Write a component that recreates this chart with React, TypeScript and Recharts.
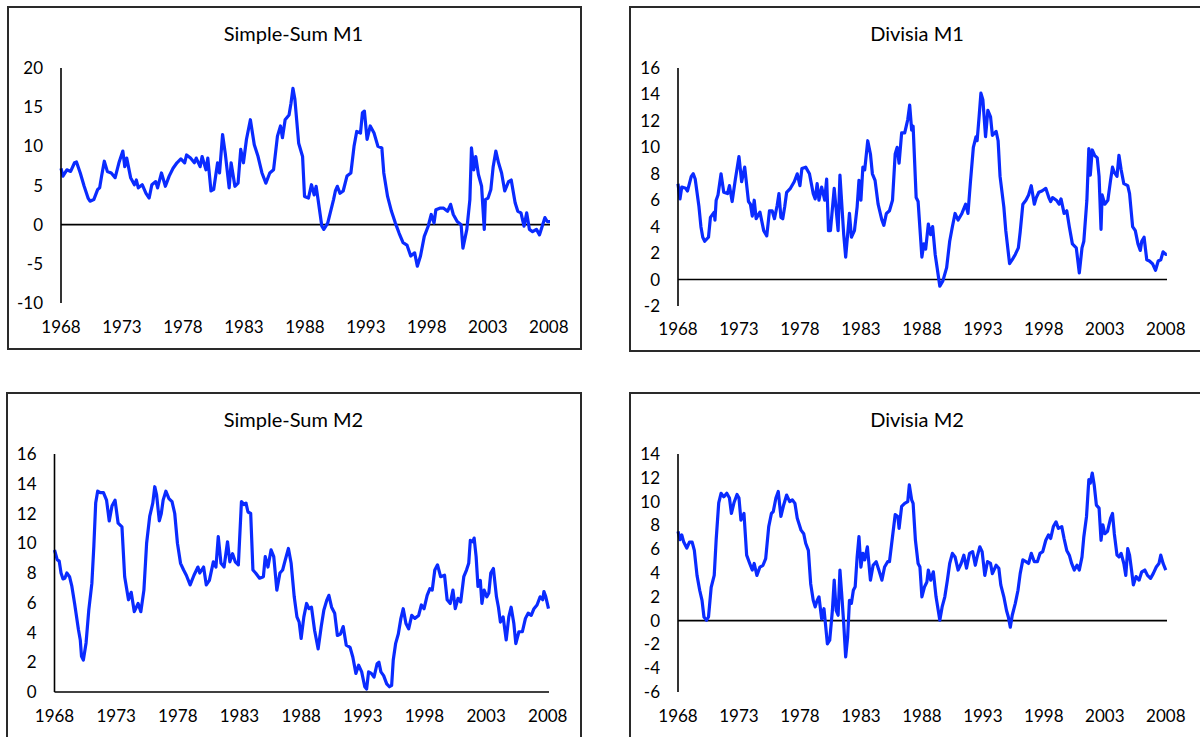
import React from 'react';
import { LineChart, Line, XAxis, YAxis, ReferenceLine } from 'recharts';

type Pt = [number, number];

const yearTicks = [1968, 1973, 1978, 1983, 1988, 1993, 1998, 2003, 2008];

const ticksSimpleSumM1 = [-10, -5, 0, 5, 10, 15, 20];
const ticksDivisiaM1 = [-2, 0, 2, 4, 6, 8, 10, 12, 14, 16];
const ticksSimpleSumM2 = [0, 2, 4, 6, 8, 10, 12, 14, 16];
const ticksDivisiaM2 = [-6, -4, -2, 0, 2, 4, 6, 8, 10, 12, 14];

const simpleSumM1: Pt[] = [
  [1968.0, 7.2], [1968.16, 6.2], [1968.48, 7.0], [1968.79, 6.8], [1969.11, 7.9], [1969.27, 8.0],
  [1969.58, 6.6], [1969.9, 4.9], [1970.22, 3.4], [1970.38, 3.0], [1970.69, 3.2], [1971.01, 4.5],
  [1971.17, 4.7], [1971.33, 6.2], [1971.55, 8.1], [1971.8, 6.8], [1972.12, 6.6], [1972.44, 6.0],
  [1972.75, 7.9], [1973.07, 9.4], [1973.23, 7.4], [1973.39, 8.5], [1973.71, 6.0], [1974.02, 5.1],
  [1974.18, 5.7], [1974.34, 4.7], [1974.66, 5.1], [1974.97, 4.0], [1975.23, 3.4], [1975.45, 5.1],
  [1975.77, 5.5], [1975.92, 4.7], [1976.24, 6.6], [1976.56, 4.9], [1976.87, 6.2], [1977.19, 7.2],
  [1977.51, 7.9], [1977.83, 8.4], [1978.14, 7.9], [1978.3, 8.9], [1978.62, 8.5], [1978.94, 7.9],
  [1979.09, 8.5], [1979.41, 7.4], [1979.57, 8.7], [1979.89, 7.0], [1980.04, 8.5], [1980.3, 4.3],
  [1980.52, 4.5], [1980.84, 7.9], [1981.0, 6.6], [1981.25, 11.5], [1981.47, 9.1], [1981.79, 4.7],
  [1981.95, 7.9], [1982.26, 4.9], [1982.52, 5.3], [1982.74, 9.6], [1982.96, 7.9], [1983.21, 10.9],
  [1983.53, 13.4], [1983.85, 10.2], [1984.16, 8.7], [1984.48, 6.6], [1984.8, 5.3], [1985.12, 6.6],
  [1985.43, 7.0], [1985.75, 11.3], [1986.0, 12.6], [1986.16, 11.1], [1986.38, 13.4], [1986.7, 14.0],
  [1986.86, 15.5], [1987.02, 17.4], [1987.18, 16.0], [1987.49, 10.4], [1987.81, 8.7], [1987.97, 3.6],
  [1988.29, 3.4], [1988.54, 5.1], [1988.76, 3.8], [1988.92, 4.9], [1989.08, 3.2], [1989.39, -0.2],
  [1989.55, -0.6], [1989.87, 0.2], [1990.35, 3.2], [1990.5, 4.3], [1990.66, 4.9], [1990.88, 4.0],
  [1991.14, 4.3], [1991.45, 6.2], [1991.77, 6.6], [1992.03, 10.0], [1992.25, 11.9], [1992.56, 11.7],
  [1992.72, 14.3], [1992.88, 14.5], [1993.1, 10.9], [1993.36, 12.6], [1993.67, 11.7], [1993.99, 10.0],
  [1994.31, 9.8], [1994.47, 6.6], [1994.78, 3.6], [1995.1, 1.7], [1995.42, 0.2], [1995.73, -1.1],
  [1996.05, -2.3], [1996.37, -2.6], [1996.68, -4.0], [1997.0, -3.6], [1997.22, -5.3], [1997.48, -4.0],
  [1997.79, -1.5], [1998.11, -0.2], [1998.36, 1.3], [1998.59, 0.2], [1998.74, 1.9], [1999.06, 2.1],
  [1999.38, 2.1], [1999.7, 1.7], [1999.95, 2.6], [2000.17, 1.3], [2000.49, 0.4], [2000.81, 0.0],
  [2000.96, -3.0], [2001.28, -0.6], [2001.53, 3.2], [2001.66, 9.8], [2001.85, 7.0], [2002.01, 8.7],
  [2002.23, 6.4], [2002.49, 4.9], [2002.71, -0.6], [2002.8, 3.2], [2003.02, 3.4], [2003.25, 4.5],
  [2003.44, 7.4], [2003.66, 9.4], [2003.88, 7.9], [2004.13, 6.6], [2004.39, 4.3], [2004.7, 5.5],
  [2004.92, 5.7], [2005.24, 2.8], [2005.46, 1.7], [2005.72, 1.5], [2005.97, -0.2], [2006.19, 1.5],
  [2006.41, -0.6], [2006.67, -0.9], [2006.99, -0.6], [2007.24, -1.3], [2007.46, -0.2], [2007.68, 0.9],
  [2007.87, 0.4], [2008.1, 0.4],
];

const divisiaM1: Pt[] = [
  [1968.0, 7.25], [1968.16, 6.1], [1968.31, 7.0], [1968.63, 6.9], [1968.78, 6.7], [1969.09, 7.8],
  [1969.25, 8.0], [1969.41, 7.6], [1969.72, 5.5], [1969.88, 4.0], [1970.03, 3.2], [1970.19, 2.9],
  [1970.5, 3.2], [1970.66, 4.7], [1970.97, 5.1], [1971.03, 4.5], [1971.13, 6.0], [1971.28, 6.4],
  [1971.53, 8.0], [1971.75, 6.6], [1972.06, 6.5], [1972.22, 7.1], [1972.44, 5.9], [1972.69, 7.5],
  [1973.0, 9.3], [1973.22, 7.4], [1973.47, 8.5], [1973.78, 5.9], [1973.94, 5.7], [1974.09, 4.8],
  [1974.25, 6.0], [1974.41, 4.6], [1974.72, 5.1], [1975.03, 3.7], [1975.28, 3.3], [1975.5, 5.2],
  [1975.72, 5.2], [1975.91, 4.6], [1976.13, 5.6], [1976.28, 6.5], [1976.44, 4.7], [1976.59, 4.6],
  [1976.75, 5.5], [1976.91, 6.6], [1977.22, 6.9], [1977.53, 7.4], [1977.78, 8.0], [1978.0, 7.1],
  [1978.16, 8.4], [1978.47, 8.5], [1978.78, 8.0], [1979.09, 6.5], [1979.25, 6.1], [1979.41, 7.25],
  [1979.56, 6.0], [1979.78, 7.0], [1980.03, 6.0], [1980.19, 7.6], [1980.34, 3.7], [1980.5, 3.7],
  [1980.81, 6.9], [1981.13, 3.7], [1981.28, 7.9], [1981.59, 3.4], [1981.75, 1.7], [1981.91, 3.4],
  [1982.06, 5.0], [1982.22, 3.2], [1982.47, 3.7], [1982.69, 5.5], [1982.84, 7.5], [1983.0, 6.0],
  [1983.16, 8.5], [1983.31, 8.3], [1983.56, 10.5], [1983.78, 9.5], [1983.94, 8.0], [1984.16, 7.5],
  [1984.41, 5.7], [1984.72, 4.5], [1984.88, 4.1], [1985.09, 5.0], [1985.34, 5.2], [1985.59, 6.0],
  [1985.81, 9.5], [1985.97, 10.0], [1986.13, 8.8], [1986.34, 11.1], [1986.59, 11.1], [1986.84, 12.1],
  [1987.0, 13.2], [1987.16, 11.3], [1987.28, 11.6], [1987.53, 6.2], [1987.69, 5.9], [1988.0, 1.7],
  [1988.16, 2.7], [1988.31, 2.3], [1988.53, 4.2], [1988.72, 3.4], [1988.88, 4.0], [1989.09, 1.9],
  [1989.25, 0.9], [1989.47, -0.5], [1989.72, -0.1], [1990.03, 0.9], [1990.28, 2.9], [1990.5, 4.0],
  [1990.72, 5.0], [1990.97, 4.5], [1991.28, 5.0], [1991.59, 5.7], [1991.78, 5.0], [1991.97, 7.25],
  [1992.22, 10.0], [1992.44, 10.8], [1992.53, 10.5], [1992.69, 12.3], [1992.84, 14.1], [1993.0, 13.6],
  [1993.22, 10.8], [1993.41, 12.8], [1993.63, 12.3], [1993.78, 10.9], [1994.09, 11.2], [1994.25, 10.5],
  [1994.41, 7.8], [1994.72, 5.5], [1994.88, 3.7], [1995.19, 1.2], [1995.41, 1.5], [1995.66, 1.9],
  [1995.91, 2.4], [1996.06, 3.6], [1996.28, 5.7], [1996.53, 6.0], [1996.75, 6.4], [1996.97, 7.1],
  [1997.22, 5.7], [1997.38, 6.2], [1997.59, 6.6], [1997.84, 6.7], [1998.16, 6.9], [1998.41, 6.2],
  [1998.56, 5.9], [1998.72, 6.2], [1999.03, 6.0], [1999.25, 5.7], [1999.41, 6.1], [1999.66, 5.0],
  [1999.88, 5.2], [2000.09, 4.0], [2000.34, 2.7], [2000.66, 2.4], [2000.91, 0.5], [2001.13, 2.4],
  [2001.28, 2.9], [2001.53, 6.0], [2001.69, 9.9], [2001.81, 7.9], [2001.97, 9.8], [2002.16, 9.4],
  [2002.38, 9.2], [2002.53, 7.8], [2002.69, 3.8], [2002.78, 6.4], [2003.0, 5.7], [2003.25, 6.0],
  [2003.47, 7.5], [2003.63, 8.5], [2003.78, 8.1], [2004.0, 7.8], [2004.16, 9.4], [2004.34, 8.3],
  [2004.56, 7.25], [2004.88, 7.1], [2005.03, 6.5], [2005.28, 4.0], [2005.5, 3.7], [2005.72, 2.7],
  [2005.91, 2.2], [2006.03, 2.9], [2006.22, 3.2], [2006.44, 1.5], [2006.66, 1.4], [2006.91, 1.2],
  [2007.16, 0.7], [2007.38, 1.4], [2007.59, 1.5], [2007.78, 2.1], [2008.0, 1.9], [2008.09, 1.9],
];

const simpleSumM2: Pt[] = [
  [1968.0, 9.55], [1968.22, 8.9], [1968.38, 8.8], [1968.53, 8.0], [1968.69, 7.6], [1968.84, 7.65],
  [1969.0, 8.0], [1969.22, 7.75], [1969.41, 7.1], [1969.63, 5.95], [1969.94, 4.2], [1970.09, 3.5],
  [1970.19, 2.4], [1970.34, 2.15], [1970.56, 3.3], [1970.78, 5.5], [1971.03, 7.3], [1971.19, 9.8],
  [1971.34, 12.7], [1971.5, 13.5], [1971.72, 13.4], [1971.97, 13.4], [1972.22, 12.9], [1972.44, 11.5],
  [1972.66, 12.5], [1972.91, 12.9], [1973.16, 11.35], [1973.47, 11.1], [1973.69, 7.75], [1974.0, 6.2],
  [1974.22, 6.7], [1974.47, 5.4], [1974.78, 5.95], [1975.0, 5.4], [1975.25, 6.85], [1975.47, 10.0],
  [1975.72, 11.8], [1975.97, 12.7], [1976.13, 13.8], [1976.28, 13.25], [1976.5, 11.5], [1976.66, 12.0],
  [1976.81, 12.9], [1977.03, 13.5], [1977.28, 13.0], [1977.53, 12.8], [1977.75, 12.0], [1977.97, 10.0],
  [1978.22, 8.65], [1978.47, 8.2], [1978.69, 7.85], [1979.0, 7.2], [1979.31, 7.85], [1979.63, 8.4],
  [1979.78, 8.0], [1980.09, 8.4], [1980.31, 7.2], [1980.56, 7.5], [1980.88, 8.75], [1981.09, 8.4],
  [1981.28, 10.45], [1981.5, 8.65], [1981.75, 8.4], [1982.03, 10.1], [1982.22, 8.75], [1982.44, 9.3],
  [1982.66, 8.75], [1982.91, 8.55], [1983.16, 12.8], [1983.38, 12.6], [1983.53, 12.7], [1983.69, 12.1],
  [1983.91, 12.0], [1984.09, 8.2], [1984.31, 8.0], [1984.63, 7.65], [1984.94, 7.75], [1985.09, 9.1],
  [1985.31, 8.4], [1985.56, 9.55], [1985.78, 9.1], [1986.03, 6.85], [1986.28, 8.0], [1986.5, 8.2],
  [1986.72, 8.9], [1986.97, 9.65], [1987.19, 8.65], [1987.44, 6.4], [1987.66, 5.05], [1987.84, 4.7],
  [1988.0, 3.6], [1988.22, 5.05], [1988.44, 5.95], [1988.63, 5.6], [1988.84, 5.7], [1989.09, 4.15],
  [1989.38, 2.9], [1989.63, 4.4], [1989.84, 5.5], [1990.09, 6.2], [1990.25, 6.5], [1990.47, 5.7],
  [1990.72, 5.3], [1990.94, 3.8], [1991.19, 3.9], [1991.41, 4.4], [1991.66, 3.15], [1991.97, 3.0],
  [1992.19, 2.35], [1992.44, 1.25], [1992.66, 1.8], [1992.91, 1.35], [1993.16, 0.35], [1993.31, 0.2],
  [1993.47, 1.35], [1993.69, 1.25], [1993.91, 1.0], [1994.16, 1.9], [1994.31, 2.0], [1994.47, 1.35],
  [1994.69, 1.1], [1994.94, 0.55], [1995.16, 0.35], [1995.34, 0.45], [1995.47, 2.15], [1995.66, 3.25],
  [1995.88, 3.9], [1996.09, 4.95], [1996.28, 5.6], [1996.5, 4.6], [1996.72, 4.25], [1996.97, 5.15],
  [1997.22, 4.95], [1997.53, 5.15], [1997.75, 5.85], [1997.97, 5.6], [1998.22, 6.5], [1998.44, 6.95],
  [1998.63, 6.85], [1998.84, 8.2], [1999.06, 8.55], [1999.31, 7.75], [1999.63, 7.85], [1999.84, 6.2],
  [2000.09, 5.95], [2000.31, 6.85], [2000.5, 5.6], [2000.72, 6.3], [2000.94, 6.05], [2001.19, 7.75],
  [2001.41, 8.2], [2001.59, 8.65], [2001.72, 10.2], [2001.91, 10.1], [2002.03, 10.35], [2002.19, 9.1],
  [2002.34, 7.1], [2002.53, 7.5], [2002.66, 5.95], [2002.84, 6.85], [2003.06, 6.4], [2003.22, 6.65],
  [2003.38, 8.0], [2003.59, 8.3], [2003.84, 6.4], [2004.0, 5.7], [2004.16, 4.7], [2004.38, 5.05],
  [2004.63, 3.5], [2004.84, 5.05], [2005.03, 5.7], [2005.25, 4.6], [2005.41, 3.25], [2005.66, 4.05],
  [2005.94, 4.05], [2006.19, 4.95], [2006.41, 5.3], [2006.66, 5.15], [2006.88, 5.6], [2007.13, 5.85],
  [2007.38, 6.4], [2007.59, 6.2], [2007.69, 6.75], [2007.84, 6.4], [2008.06, 5.6],
];

const divisiaM2: Pt[] = [
  [1968.0, 7.5], [1968.16, 6.8], [1968.31, 7.2], [1968.47, 6.6], [1968.72, 6.1], [1968.94, 6.6],
  [1969.16, 6.6], [1969.34, 5.9], [1969.56, 3.8], [1969.78, 2.55], [1969.97, 1.7], [1970.13, 0.3],
  [1970.34, 0.03], [1970.5, 0.3], [1970.72, 2.8], [1970.97, 3.8], [1971.13, 6.8], [1971.34, 9.9],
  [1971.53, 10.7], [1971.75, 10.4], [1972.0, 10.7], [1972.22, 10.3], [1972.38, 9.0], [1972.59, 9.9],
  [1972.84, 10.6], [1973.0, 10.3], [1973.16, 8.45], [1973.41, 9.0], [1973.63, 5.5], [1973.88, 4.8],
  [1974.09, 4.25], [1974.25, 4.8], [1974.47, 3.8], [1974.72, 4.5], [1974.97, 4.65], [1975.19, 5.2],
  [1975.44, 7.9], [1975.66, 9.0], [1975.81, 9.15], [1976.03, 10.3], [1976.22, 10.85], [1976.44, 8.75],
  [1976.66, 9.7], [1976.91, 10.55], [1977.16, 10.0], [1977.38, 10.15], [1977.59, 9.85], [1977.78, 8.6],
  [1978.09, 7.6], [1978.31, 7.3], [1978.47, 6.5], [1978.69, 5.9], [1978.88, 3.1], [1979.09, 1.7],
  [1979.25, 1.15], [1979.41, 1.7], [1979.56, 2.0], [1979.78, 0.15], [1979.97, 1.0], [1980.09, -0.25],
  [1980.25, -1.95], [1980.44, -1.65], [1980.66, 0.85], [1980.81, 3.4], [1980.97, 0.85], [1981.13, 0.45],
  [1981.28, 4.25], [1981.44, 2.0], [1981.59, -0.25], [1981.75, -3.05], [1981.91, -1.4], [1982.06, 1.7],
  [1982.22, 1.45], [1982.38, 2.55], [1982.53, 2.85], [1982.69, 5.35], [1982.84, 7.05], [1983.0, 4.5],
  [1983.16, 5.65], [1983.31, 5.1], [1983.53, 6.2], [1983.78, 3.4], [1984.0, 4.65], [1984.25, 4.95],
  [1984.47, 4.25], [1984.72, 3.4], [1984.94, 4.5], [1985.19, 4.95], [1985.34, 4.95], [1985.59, 7.05],
  [1985.81, 8.9], [1986.03, 8.75], [1986.13, 7.75], [1986.34, 9.6], [1986.59, 9.85], [1986.84, 10.0],
  [1986.97, 11.4], [1987.16, 10.15], [1987.28, 9.85], [1987.47, 6.75], [1987.69, 4.8], [1987.84, 4.5],
  [1988.0, 2.0], [1988.22, 2.85], [1988.41, 3.25], [1988.53, 4.25], [1988.72, 3.4], [1988.94, 4.1],
  [1989.16, 2.0], [1989.47, 0.03], [1989.66, 1.15], [1989.88, 2.0], [1990.09, 3.4], [1990.28, 4.8],
  [1990.5, 5.65], [1990.72, 5.35], [1990.97, 4.25], [1991.22, 4.8], [1991.44, 5.5], [1991.66, 4.4],
  [1991.91, 5.65], [1992.16, 5.8], [1992.38, 4.65], [1992.53, 5.35], [1992.75, 6.2], [1992.94, 5.8],
  [1993.16, 3.8], [1993.38, 4.95], [1993.63, 4.8], [1993.78, 3.95], [1994.09, 4.65], [1994.31, 4.4],
  [1994.47, 3.0], [1994.72, 2.0], [1994.94, 0.85], [1995.09, 0.3], [1995.25, -0.55], [1995.41, 0.45],
  [1995.66, 1.45], [1995.88, 2.55], [1996.06, 3.95], [1996.28, 5.1], [1996.53, 4.95], [1996.75, 4.8],
  [1996.97, 5.65], [1997.22, 4.95], [1997.47, 4.95], [1997.69, 5.65], [1997.91, 5.8], [1998.16, 6.75],
  [1998.38, 7.2], [1998.56, 6.9], [1998.78, 7.9], [1999.0, 8.3], [1999.19, 7.75], [1999.47, 7.9],
  [1999.66, 6.9], [1999.88, 5.9], [2000.09, 5.5], [2000.28, 4.8], [2000.5, 4.25], [2000.72, 4.65],
  [2000.91, 4.25], [2001.13, 5.35], [2001.28, 7.05], [2001.5, 8.75], [2001.69, 11.85], [2001.81, 11.55],
  [2001.97, 12.4], [2002.13, 11.4], [2002.31, 9.7], [2002.53, 9.45], [2002.69, 6.75], [2002.84, 8.05],
  [2003.0, 7.3], [2003.22, 7.5], [2003.47, 8.6], [2003.63, 9.0], [2003.78, 7.3], [2004.0, 5.5],
  [2004.16, 5.35], [2004.34, 5.65], [2004.56, 4.8], [2004.72, 3.8], [2004.88, 6.05], [2005.03, 5.5],
  [2005.19, 4.25], [2005.34, 3.0], [2005.56, 3.7], [2005.81, 3.4], [2006.03, 4.1], [2006.28, 4.25],
  [2006.5, 3.8], [2006.75, 3.55], [2006.97, 3.95], [2007.22, 4.5], [2007.44, 4.8], [2007.59, 5.5],
  [2007.78, 4.8], [2008.0, 4.25],
];

const FONT = 'Lato, "Open Sans", sans-serif';
const LINE_BLUE = '#0A2BFF';

type Layout = {
  box: { left: number; top: number; width: number; height: number };
  titleX: number;
  titleY: number;
  chart: { left: number; top: number; width: number; height: number };
  yAxisWidth: number;
  marginTop: number;
  marginRight: number;
  xTickMargin: number;
};

function Panel({ title, points, yTicks, layout }: { title: string; points: Pt[]; yTicks: number[]; layout: Layout }) {
  const data = points.map(([year, value]) => ({ year, value }));
  const { box, chart } = layout;
  return (
    <>
      <div
        style={{
          position: 'absolute',
          left: box.left,
          top: box.top,
          width: box.width,
          height: box.height,
          border: '2px solid #2a2a2a',
          boxSizing: 'border-box',
        }}
      />
      <div
        style={{
          position: 'absolute',
          left: layout.titleX - 150,
          top: layout.titleY - 13,
          width: 300,
          height: 26,
          lineHeight: '26px',
          textAlign: 'center',
          fontFamily: FONT,
          fontSize: 20,
          color: '#000',
        }}
      >
        {title}
      </div>
      <div style={{ position: 'absolute', left: chart.left, top: chart.top }}>
        <LineChart
          width={chart.width}
          height={chart.height}
          data={data}
          margin={{ top: layout.marginTop, right: layout.marginRight, bottom: 0, left: 0 }}
        >
          <XAxis
            dataKey="year"
            type="number"
            domain={[1968, 2008.1]}
            ticks={yearTicks}
            interval={0}
            axisLine={false}
            tickLine={false}
            tickSize={0}
            tickMargin={layout.xTickMargin}
            height={40}
            tick={{ fill: '#000', fontSize: 17, fontFamily: FONT }}
          />
          <YAxis
            type="number"
            domain={[yTicks[0], yTicks[yTicks.length - 1]]}
            ticks={yTicks}
            interval={0}
            width={layout.yAxisWidth}
            axisLine={{ stroke: '#000', strokeWidth: 1.6 }}
            tickLine={false}
            tickSize={0}
            tickMargin={18}
            tick={{ fill: '#000', fontSize: 17, fontFamily: FONT }}
          />
          <ReferenceLine y={0} stroke="#000" strokeWidth={1.6} />
          <Line
            type="linear"
            dataKey="value"
            stroke={LINE_BLUE}
            strokeWidth={3.2}
            strokeLinejoin="round"
            dot={false}
            activeDot={false}
            isAnimationActive={false}
          />
        </LineChart>
      </div>
    </>
  );
}

const layout1: Layout = {
  box: { left: 7, top: 6, width: 575, height: 344 },
  titleX: 293.5,
  titleY: 33,
  chart: { left: 8, top: 50, width: 567, height: 293 },
  yAxisWidth: 53,
  marginTop: 18,
  marginRight: 25,
  xTickMargin: 18,
};

const layout2: Layout = {
  box: { left: 629, top: 6, width: 580, height: 346 },
  titleX: 917,
  titleY: 33,
  chart: { left: 630, top: 50, width: 562, height: 296 },
  yAxisWidth: 48,
  marginTop: 18,
  marginRight: 25,
  xTickMargin: 17,
};

const layout3: Layout = {
  box: { left: 6, top: 392, width: 576, height: 360 },
  titleX: 293.5,
  titleY: 419,
  chart: { left: 7, top: 436, width: 567, height: 296 },
  yAxisWidth: 47.5,
  marginTop: 18,
  marginRight: 25,
  xTickMargin: 18,
};

const layout4: Layout = {
  box: { left: 629, top: 392, width: 580, height: 360 },
  titleX: 917,
  titleY: 419,
  chart: { left: 630, top: 436, width: 562, height: 296 },
  yAxisWidth: 48,
  marginTop: 18,
  marginRight: 25,
  xTickMargin: 18,
};

export default function App() {
  return (
    <div
      style={{
        position: 'absolute',
        left: 0,
        top: 0,
        width: 1200,
        height: 737,
        overflow: 'hidden',
        background: '#fff',
      }}
    >
      <Panel title="Simple-Sum M1" points={simpleSumM1} yTicks={ticksSimpleSumM1} layout={layout1} />
      <Panel title="Divisia M1" points={divisiaM1} yTicks={ticksDivisiaM1} layout={layout2} />
      <Panel title="Simple-Sum M2" points={simpleSumM2} yTicks={ticksSimpleSumM2} layout={layout3} />
      <Panel title="Divisia M2" points={divisiaM2} yTicks={ticksDivisiaM2} layout={layout4} />
    </div>
  );
}
